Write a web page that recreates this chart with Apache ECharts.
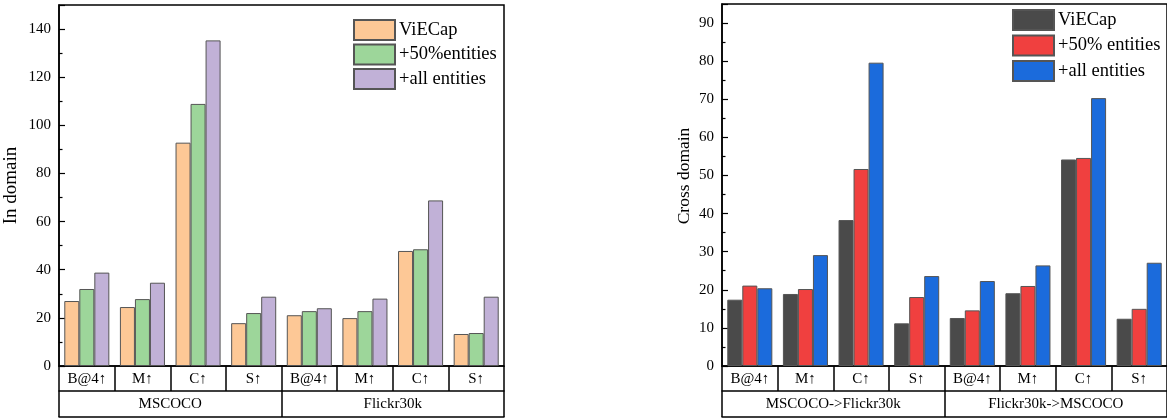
<!DOCTYPE html>
<html>
<head>
<meta charset="utf-8">
<script src="https://cdn.jsdelivr.net/npm/echarts@6/dist/echarts.min.js"></script>
<style>html,body{margin:0;padding:0;background:#fff;}#c{width:1167px;height:419px;}</style>
</head>
<body>
<div id="c"></div>
<script>
const categories = ['B@4↑','M↑','C↑','S↑','B@4↑','M↑','C↑','S↑'];
const inGroups = ['MSCOCO','Flickr30k'];
const crossGroups = ['MSCOCO->Flickr30k','Flickr30k->MSCOCO'];
const inNames = ['ViECap','+50%entities','+all entities'];
const crossNames = ['ViECap','+50% entities','+all entities'];
const inViECap = [27.0, 24.5, 92.8, 17.8, 21.1, 19.9, 47.8, 13.3];
const in50 = [32.0, 27.8, 108.9, 22.0, 22.8, 22.8, 48.5, 13.7];
const inAll = [38.8, 34.6, 135.3, 28.8, 24.0, 28.0, 68.8, 28.8];
const crossViECap = [17.4, 18.9, 38.3, 11.2, 12.6, 19.1, 54.2, 12.4];
const cross50 = [21.1, 20.2, 51.7, 18.1, 14.6, 21.0, 54.6, 15.0];
const crossAll = [20.4, 29.1, 79.6, 23.6, 22.3, 26.4, 70.3, 27.1];

const FONT = '"Liberation Serif", "Times New Roman", serif';
const inColors = ['#FDC896', '#9DD69A', '#C1B1D7'];
const crossColors = ['#4A4A4A', '#F0403F', '#1B6BDC'];
const LW = 1.5;

function xAxes(gridIndex, groups) {
  return [
    {
      type: 'category', gridIndex, data: categories, position: 'bottom',
      axisLine: {show: true, lineStyle: {color: '#000', width: LW}},
      axisTick: {show: true, length: 25, lineStyle: {color: '#000', width: LW}},
      axisLabel: {color: '#000', fontFamily: FONT, fontSize: 15, margin: 6, interval: 0}
    },
    {
      type: 'category', gridIndex, data: groups, position: 'bottom', offset: 25,
      axisLine: {show: true, lineStyle: {color: '#000', width: LW}},
      axisTick: {show: true, length: 26, lineStyle: {color: '#000', width: LW}},
      axisLabel: {color: '#000', fontFamily: FONT, fontSize: 15, margin: 6, interval: 0}
    },
    {
      type: 'category', gridIndex, data: groups, position: 'bottom', offset: 51,
      axisLine: {show: true, lineStyle: {color: '#000', width: LW}},
      axisTick: {show: false}, axisLabel: {show: false}
    }
  ];
}

function yAxis(gridIndex, max, interval, name, nameGap, nameSize, namePad) {
  return {
    type: 'value', gridIndex, min: 0, max, interval,
    name, nameLocation: 'middle', nameGap,
    nameTextStyle: {color: '#000', fontFamily: FONT, fontSize: nameSize, padding: namePad},
    axisLine: {show: true, lineStyle: {color: '#000', width: LW}},
    axisTick: {show: true, inside: true, length: 6, lineStyle: {color: '#000', width: 1.2}},
    minorTick: {show: true, splitNumber: 2, length: 3.5, lineStyle: {color: '#000', width: 1.2}},
    splitLine: {show: false},
    axisLabel: {color: '#000', fontFamily: FONT, fontSize: 15, margin: 8, showMaxLabel: false}
  };
}

function bars(names, datas, colors, xIdx, yIdx) {
  return datas.map((d, i) => ({
    type: 'bar', name: names[i], data: d, xAxisIndex: xIdx, yAxisIndex: yIdx,
    barGap: '0%', barCategoryGap: '19%',
    itemStyle: {color: colors[i], borderColor: '#555', borderWidth: 1},
    emphasis: {disabled: true}, animation: false
  }));
}

const crossSeriesNames = crossNames.map(n => n + ' ');

const option = {
  animation: false,
  backgroundColor: '#fff',
  grid: [
    {left: 59, top: 5, width: 445, height: 361, show: true, borderColor: '#000', borderWidth: LW, containLabel: false},
    {left: 722, top: 4, width: 448, height: 362, show: true, borderColor: '#000', borderWidth: LW, containLabel: false}
  ],
  legend: [
    {
      data: inNames, left: 353, top: 19, padding: 0, orient: 'vertical', icon: 'rect',
      itemWidth: 41, itemHeight: 20, itemGap: 2.5, selectedMode: false,
      textStyle: {color: '#000', fontFamily: FONT, fontSize: 18.5, lineHeight: 20, padding: [0, 0, 0, -1]}
    },
    {
      data: crossSeriesNames, left: 1012, top: 9, padding: 0, orient: 'vertical', icon: 'rect',
      itemWidth: 41, itemHeight: 20, itemGap: 3.5, selectedMode: false,
      formatter: n => n.trim(),
      textStyle: {color: '#000', fontFamily: FONT, fontSize: 18.5, lineHeight: 20, padding: [0, 0, 0, -1]}
    }
  ],
  xAxis: xAxes(0, inGroups).concat(xAxes(1, crossGroups)),
  yAxis: [
    yAxis(0, 150, 20, 'In domain', 38, 19, [0, 0, 0, 0]),
    yAxis(1, 95, 10, 'Cross domain', 29, 17.5, [0, 0, 0, 18])
  ],
  series: bars(inNames, [inViECap, in50, inAll], inColors, 0, 0)
    .concat(bars(crossSeriesNames, [crossViECap, cross50, crossAll], crossColors, 3, 1))
};

const chart = echarts.init(document.getElementById('c'), null, {renderer: 'canvas'});
chart.setOption(option);
</script>
</body>
</html>
